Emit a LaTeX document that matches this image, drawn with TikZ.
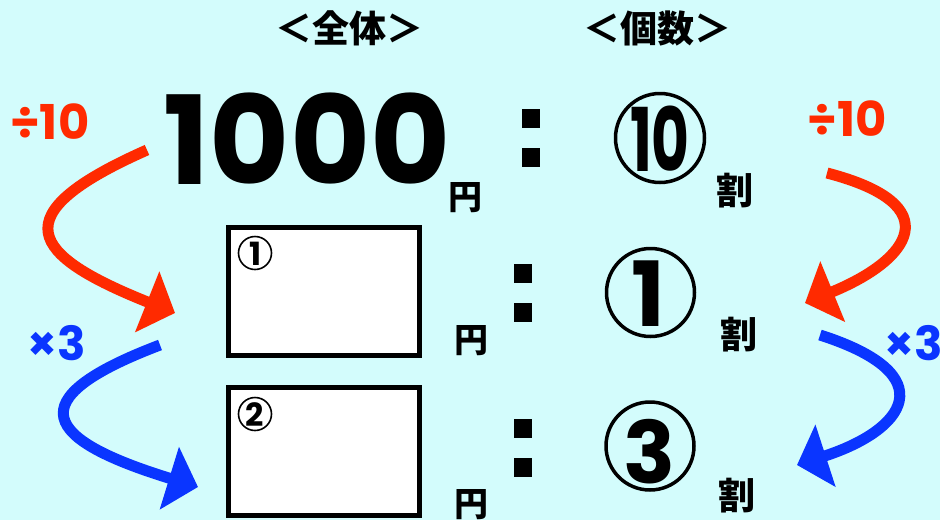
\documentclass[tikz,border=0pt]{standalone}
\usepackage{fontspec}
\setmainfont{Poppins}
\newfontfamily\jp{Noto Sans CJK JP}
\usetikzlibrary{arrows.meta}
\definecolor{bg}{HTML}{D3FCFC}
\definecolor{myred}{HTML}{FF2A00}
\definecolor{myblue}{HTML}{0A35FF}
\begin{document}
\begin{tikzpicture}[x=1pt,y=-1pt,
  every node/.style={inner sep=0pt, outer sep=0pt},
  jphead/.style={font=\jp\bfseries\fontsize{37}{37}\selectfont},
  jpunit/.style={font=\jp\bfseries\fontsize{34}{34}\selectfont},
  jpwari/.style={font=\jp\bfseries\fontsize{37}{37}\selectfont},
  opred/.style={text=myred, font=\bfseries\fontsize{48}{48}\selectfont},
  opblue/.style={text=myblue, font=\bfseries\fontsize{47}{47}\selectfont},
  sq/.style={fill=black, minimum width=18pt, minimum height=19pt},
  ring/.style={circle, draw=black, line width=3.5pt, minimum size=88pt},
  smallring/.style={circle, draw=black, line width=1.6pt, minimum size=33pt},
  bignum/.style={font=\bfseries\fontsize{90}{90}\selectfont},
  smallnum/.style={font=\bfseries\fontsize{32}{32}\selectfont},
  answerbox/.style={draw=black, fill=white, line width=5pt, minimum width=191pt, minimum height=128pt},
  redarrow/.style={draw=myred, line width=11pt, -{Triangle[length=30pt,width=64pt]}},
  bluearrow/.style={draw=myblue, line width=11pt, -{Triangle[length=30pt,width=64pt]}}
]
\fill[bg] (0,0) rectangle (940,520);
\useasboundingbox (0,0) rectangle (940,520);

% headers
\node[jphead] (hzen) at (349,28) {＜全体＞};
\node[jphead] (hko) at (657,28) {＜個数＞};

% row 1
\node[font=\bfseries\fontsize{123}{123}\selectfont] (n1000) at (307,138.5) {1000};
\node[jpunit] (yen1) at (465,198) {円};
\node[sq] (c1a) at (531,118.5) {};
\node[sq] (c1b) at (531,157.5) {};
\node[ring, minimum size=89pt] (r10) at (660,138) {};
\node[bignum, font=\bfseries\fontsize{88}{88}\selectfont] (t10) at (660,139) {\scalebox{0.66}[1]{10}};
\node[jpwari] (wari1) at (735,191) {割};

% row 2
\node[answerbox] (box1) at (324,291) {};
\node[smallring] (sr1) at (255,253) {};
\node[smallnum] (st1) at (255.5,254) {1};
\node[jpunit] (yen2) at (471,341) {円};
\node[sq] (c2a) at (523,273) {};
\node[sq] (c2b) at (523,312.5) {};
\node[ring] (r1) at (650.5,292.5) {};
\node[bignum] (t1) at (648,294) {1};
\node[jpwari] (wari2) at (739,335) {割};

% row 3
\node[answerbox] (box2) at (323.5,451) {};
\node[smallring] (sr2) at (255,414) {};
\node[smallnum] (st2) at (255,415) {2};
\node[jpunit] (yen3) at (471,505) {円};
\node[sq] (c3a) at (523,428) {};
\node[sq] (c3b) at (523,467) {};
\node[ring] (r3) at (650,446) {};
\node[bignum, font=\bfseries\fontsize{86}{86}\selectfont] (t3) at (650,452) {3};
\node[jpwari] (wari3) at (737,496) {割};

% operator labels
\node[opred] (divL) at (50,122) {÷10};
\node[opred] (divR) at (847,119) {÷10};
\node[opblue] (mulL) at (57,343) {×3};
\node[opblue] (mulR) at (914,343) {×3};

% arrow end points
\coordinate (rLs) at (147,150);
\coordinate (rLe) at (175,313);
\coordinate (rRs) at (827,173);
\coordinate (rRe) at (805,303);
\coordinate (bLs) at (160,345);
\coordinate (bLe) at (198,487);
\coordinate (bRs) at (820,335);
\coordinate (bRe) at (797,465);

\draw[redarrow] (rLs) .. controls (0,215) and (30,255) .. (rLe);
\draw[redarrow] (rRs) .. controls (950,205) and (910,260) .. (rRe);
\draw[bluearrow] (bLs) .. controls (15,400) and (45,440) .. (bLe);
\draw[bluearrow] (bRs) .. controls (945,375) and (905,430) .. (bRe);
\end{tikzpicture}
\end{document}
